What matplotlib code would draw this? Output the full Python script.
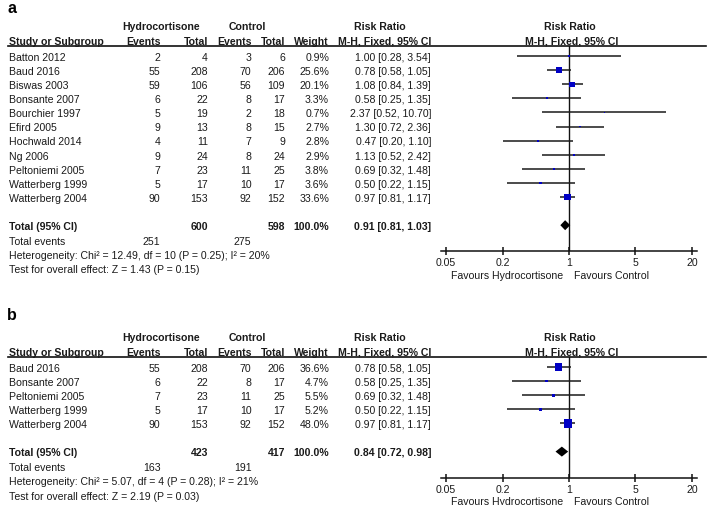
import numpy as np
import matplotlib
matplotlib.use("Agg")
import matplotlib.pyplot as plt
from matplotlib.transforms import blended_transform_factory

plt.rcParams['font.family'] = ['Liberation Sans', 'DejaVu Sans']

# panel a: all studies
studies_a = ["Batton 2012", "Baud 2016", "Biswas 2003", "Bonsante 2007", "Bourchier 1997",
             "Efird 2005", "Hochwald 2014", "Ng 2006", "Peltoniemi 2005",
             "Watterberg 1999", "Watterberg 2004"]
hc_events_a = [2, 55, 59, 6, 5, 9, 4, 9, 7, 5, 90]
hc_total_a = [4, 208, 106, 22, 19, 13, 11, 24, 23, 17, 153]
ct_events_a = [3, 70, 56, 8, 2, 8, 7, 8, 11, 10, 92]
ct_total_a = [6, 206, 109, 17, 18, 15, 9, 24, 25, 17, 152]
weight_a = [0.9, 25.6, 20.1, 3.3, 0.7, 2.7, 2.8, 2.9, 3.8, 3.6, 33.6]
rr_a = [1.00, 0.78, 1.08, 0.58, 2.37, 1.30, 0.47, 1.13, 0.69, 0.50, 0.97]
lo_a = [0.28, 0.58, 0.84, 0.25, 0.52, 0.72, 0.20, 0.52, 0.32, 0.22, 0.81]
hi_a = [3.54, 1.05, 1.39, 1.35, 10.70, 2.36, 1.10, 2.42, 1.48, 1.15, 1.17]
total_a = {"hc_total": 600, "ct_total": 598, "rr": 0.91, "lo": 0.81, "hi": 1.03,
           "hc_events": 251, "ct_events": 275,
           "het": "Heterogeneity: Chi² = 12.49, df = 10 (P = 0.25); I² = 20%",
           "z": "Test for overall effect: Z = 1.43 (P = 0.15)"}

# panel b: subset
studies_b = ["Baud 2016", "Bonsante 2007", "Peltoniemi 2005", "Watterberg 1999", "Watterberg 2004"]
hc_events_b = [55, 6, 7, 5, 90]
hc_total_b = [208, 22, 23, 17, 153]
ct_events_b = [70, 8, 11, 10, 92]
ct_total_b = [206, 17, 25, 17, 152]
weight_b = [36.6, 4.7, 5.5, 5.2, 48.0]
rr_b = [0.78, 0.58, 0.69, 0.50, 0.97]
lo_b = [0.58, 0.25, 0.32, 0.22, 0.81]
hi_b = [1.05, 1.35, 1.48, 1.15, 1.17]
total_b = {"hc_total": 423, "ct_total": 417, "rr": 0.84, "lo": 0.72, "hi": 0.98,
           "hc_events": 163, "ct_events": 191,
           "het": "Heterogeneity: Chi² = 5.07, df = 4 (P = 0.28); I² = 21%",
           "z": "Test for overall effect: Z = 2.19 (P = 0.03)"}

tick_vals = [0.05, 0.2, 1, 5, 20]
tick_labels = ["0.05", "0.2", "1", "5", "20"]

W, H = 708, 506
ROW = 14.1
FS = 7.6
TXT = '#1a1a1a'
BLUE = '#0000c4'

fig = plt.figure(figsize=(W / 100, H / 100), dpi=100)
bg = fig.add_axes([0, 0, 1, 1])
bg.set_xlim(0, W)
bg.set_ylim(H, 0)
bg.axis('off')


def draw_panel(label, label_px, first_px, studies, hc_ev, hc_tot, ct_ev, ct_tot, wts, rr, lo, hi, tot):
    n = len(studies)
    total_row = n + 1
    top_px = first_px - 10
    bot_px = first_px + total_row * ROW + 26
    x0, x1 = 441, 697
    ax = fig.add_axes([x0 / W, 1 - bot_px / H, (x1 - x0) / W, (bot_px - top_px) / H])
    ax.patch.set_alpha(0)
    ax.set_xscale('log')
    # 0.05 and 20 sit 5 px inside the axis ends
    dec = (692 - 446) / np.log10(400)
    pad = 5 / dec
    ax.set_xlim(10 ** (np.log10(0.05) - pad), 10 ** (np.log10(20) + pad))
    ax.set_ylim((bot_px - first_px) / ROW, (top_px - first_px) / ROW)
    for s in ['top', 'left', 'right']:
        ax.spines[s].set_visible(False)
    ax.spines['bottom'].set_linewidth(1.1)
    ax.spines['bottom'].set_color('#111111')
    ax.set_yticks([])
    ax.set_xticks(tick_vals)
    ax.set_xticklabels(tick_labels)
    ax.xaxis.set_minor_locator(matplotlib.ticker.NullLocator())
    ax.tick_params(axis='x', direction='inout', length=6, width=1.1, pad=1.5,
                   labelsize=FS, colors='#111111', labelcolor=TXT)
    ax.axvline(1, color='#111111', lw=1.0, zorder=1)

    rows = np.arange(n)
    ax.hlines(rows, lo, hi, color='#1a1a1a', lw=1.1, zorder=2)
    side_px = np.maximum(12 * np.sqrt(np.array(wts) / 100), 1.6)
    ax.scatter(rr, rows, marker='s', s=(side_px * 0.72) ** 2, color=BLUE,
               linewidths=0, zorder=3)
    dh = 5 / ROW
    ax.fill([tot["lo"], tot["rr"], tot["hi"], tot["rr"]],
            [total_row, total_row - dh, total_row, total_row + dh],
            color='black', lw=0, zorder=3)

    tr = blended_transform_factory(bg.transData, ax.transData)
    base = 0.27

    def t(x, row, s, ha='left', bold=False, size=FS):
        ax.text(x, row + base, s, transform=tr, ha=ha, va='baseline', fontsize=size,
                fontweight='bold' if bold else 'normal', color=TXT, clip_on=False)

    # panel letter
    ax.text(7, (label_px - first_px) / ROW, label, transform=tr, ha='left', va='baseline',
            fontsize=11.5, fontweight='bold', color='black', clip_on=False)
    # headers
    h1, h2 = -2.2, -1.13
    t(161, h1, "Hydrocortisone", ha='center', bold=True)
    t(247, h1, "Control", ha='center', bold=True)
    t(380, h1, "Risk Ratio", ha='center', bold=True)
    t(570, h1, "Risk Ratio", ha='center', bold=True)
    t(9, h2, "Study or Subgroup", bold=True)
    t(161, h2, "Events", ha='right', bold=True)
    t(208, h2, "Total", ha='right', bold=True)
    t(252, h2, "Events", ha='right', bold=True)
    t(285, h2, "Total", ha='right', bold=True)
    t(329, h2, "Weight", ha='right', bold=True)
    t(431, h2, "M-H, Fixed, 95% CI", ha='right', bold=True)
    t(572, h2, "M-H, Fixed, 95% CI", ha='center', bold=True)
    ax.plot([8, 706], [(top_px - first_px) / ROW] * 2, transform=tr, color='#111111',
            lw=1.2, clip_on=False)

    for i in range(n):
        t(9, i, studies[i])
        t(160.5, i, str(hc_ev[i]), ha='right')
        t(208, i, str(hc_tot[i]), ha='right')
        t(251.5, i, str(ct_ev[i]), ha='right')
        t(285, i, str(ct_tot[i]), ha='right')
        t(329, i, f"{wts[i]:.1f}%", ha='right')
        t(431, i, f"{rr[i]:.2f} [{lo[i]:.2f}, {hi[i]:.2f}]", ha='right')

    t(9, total_row, "Total (95% CI)", bold=True)
    t(208, total_row, str(tot["hc_total"]), ha='right', bold=True)
    t(285, total_row, str(tot["ct_total"]), ha='right', bold=True)
    t(329, total_row, "100.0%", ha='right', bold=True)
    t(431, total_row, f"{tot['rr']:.2f} [{tot['lo']:.2f}, {tot['hi']:.2f}]", ha='right', bold=True)
    t(9, total_row + 1.06, "Total events")
    t(160.5, total_row + 1.06, str(tot["hc_events"]), ha='right')
    t(251.5, total_row + 1.06, str(tot["ct_events"]), ha='right')
    t(9, total_row + 2.06, tot["het"])
    t(9, total_row + 3.06, tot["z"])

    axis_row = (bot_px - first_px) / ROW
    t(507, axis_row + 1.6, "Favours Hydrocortisone", ha='center')
    t(612, axis_row + 1.6, "Favours Control", ha='center')


draw_panel("a", 13, 57, studies_a, hc_events_a, hc_total_a, ct_events_a, ct_total_a,
           weight_a, rr_a, lo_a, hi_a, total_a)
draw_panel("b", 320, 368, studies_b, hc_events_b, hc_total_b, ct_events_b, ct_total_b,
           weight_b, rr_b, lo_b, hi_b, total_b)

fig.savefig("out.png", dpi=100, facecolor='white')
